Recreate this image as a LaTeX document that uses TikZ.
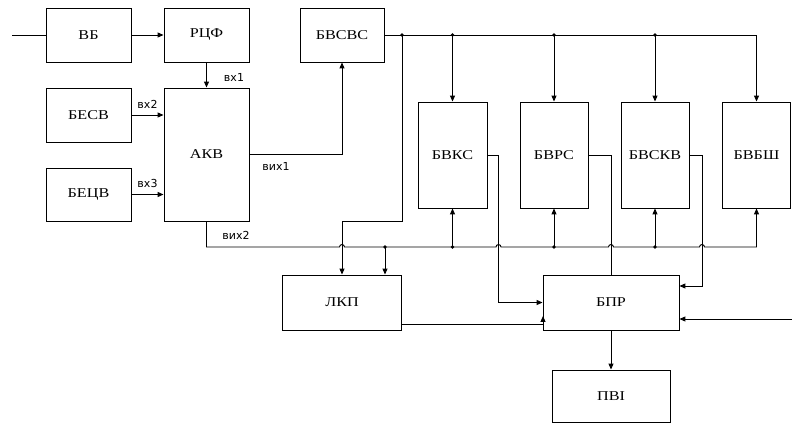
\documentclass[tikz,border=0pt]{standalone}
\usepackage{fontspec}
\setmainfont{Liberation Serif}
\newfontfamily\lblfont{DejaVu Sans}
\usetikzlibrary{arrows.meta,calc}
\newlength\pu
\setlength\pu{0.03cm}
\newcommand\bt[1]{\scalebox{1.2}[1]{#1}}
\begin{document}
\begin{tikzpicture}[x=0.03cm,y=-0.03cm,
  blk/.style={draw, line width=0.8pt, inner sep=0pt, font=\fontsize{11.5}{12}\selectfont},
  wire/.style={line width=0.8pt},
  arr/.style={wire,-{Triangle[length=5pt,width=4.2pt]}},
  lbl/.style={font=\lblfont\fontsize{9.4}{10}\selectfont, inner sep=0pt},
  jdot/.style={circle, fill, inner sep=0pt, minimum size=3.2pt}]
\useasboundingbox (0,0) rectangle (792,423);

% blocks
\node[blk,minimum width=85\pu,minimum height=54\pu] (vb) at (88.5,35) {\bt{ВБ}};
\node[blk,minimum width=85\pu,minimum height=54\pu] (rcf) at (206.5,35) {\bt{РЦФ}};
\node[blk,minimum width=84\pu,minimum height=54\pu] (bvsvs) at (342,35) {\bt{БВСВС}};
\node[blk,minimum width=85\pu,minimum height=54\pu] (besv) at (88.5,115) {\bt{БЕСВ}};
\node[blk,minimum width=85\pu,minimum height=133\pu] (akv) at (206.5,154.5) {\bt{АКВ}};
\node[blk,minimum width=85\pu,minimum height=53\pu] (becv) at (88.5,194.5) {\bt{БЕЦВ}};
\node[blk,minimum width=69\pu,minimum height=106\pu] (bvks) at (452.5,155) {\bt{БВКС}};
\node[blk,minimum width=68\pu,minimum height=106\pu] (bvrs) at (554,155) {\bt{БВРС}};
\node[blk,minimum width=68\pu,minimum height=106\pu] (bvskv) at (655,155) {\bt{БВСКВ}};
\node[blk,minimum width=68\pu,minimum height=106\pu] (bvbsh) at (756.5,155) {\bt{БВБШ}};
\node[blk,minimum width=119\pu,minimum height=55\pu] (lkp) at (342,302.5) {\bt{ЛКП}};
\node[blk,minimum width=136\pu,minimum height=55\pu] (bpr) at (611,302.5) {\bt{БПР}};
\node[blk,minimum width=118\pu,minimum height=52\pu] (pvi) at (611,396) {\bt{ПВІ}};

% labels
\node[lbl] (l1) at (234,77) {вх1};
\node[lbl] (l2) at (147.5,104) {вх2};
\node[lbl] (l3) at (147.5,183) {вх3};
\node[lbl] (l4) at (276,166) {вих1};
\node[lbl] (l5) at (236,235) {вих2};

% coordinates
\coordinate (in) at (12,35);
\coordinate (tb0) at (402,35);
\coordinate (tb1) at (452.5,35);
\coordinate (tb2) at (554,35);
\coordinate (tb3) at (655,35);
\coordinate (tb4) at (756.5,35);
\coordinate (lk1) at (402,221);
\coordinate (lk2) at (342,221);
\coordinate (bb0) at (206.5,247);
\coordinate (bb1) at (385,247);
\coordinate (bb2) at (452.5,247);
\coordinate (bb3) at (554,247);
\coordinate (bb4) at (655,247);
\coordinate (bb5) at (756.5,247);
\coordinate (o1) at (498.5,155);
\coordinate (o2) at (611,155);
\coordinate (o3) at (702,155);
\coordinate (o3b) at (702,286);
\coordinate (rin) at (792,319);
\coordinate (lko) at (401.5,324);
\coordinate (lkt) at (543,324);
\coordinate (lkh) at (543,316);

% top part
\draw[wire] (in) -- (vb.west);
\draw[arr] (vb.east) -- (rcf.west);
\draw[arr] (rcf.south) -- (akv.north);
\draw[arr] (besv.east) -- (besv.east -| akv.west);
\draw[arr] (becv.east) -- (becv.east -| akv.west);
\draw[arr] (akv.east) -| (bvsvs.south);

% top bus
\draw[arr] (bvsvs.east) -- (tb4) -- (bvbsh.north);
\draw[arr] (tb1) -- (bvks.north);
\draw[arr] (tb2) -- (bvrs.north);
\draw[arr] (tb3) -- (bvskv.north);
\draw[wire] (tb0) -- (lk1) -- (lk2);
\draw[arr] (lk2) -- (lkp.north);

% bottom bus with hops
\draw[arr] (akv.south) -- (bb0) -- (339.5,247) arc[start angle=180,end angle=360,radius=2.5]
  -- (496,247) arc[start angle=180,end angle=360,radius=2.5]
  -- (608.5,247) arc[start angle=180,end angle=360,radius=2.5]
  -- (699.5,247) arc[start angle=180,end angle=360,radius=2.5]
  -- (bb5) -- (bvbsh.south);
\draw[arr] (bb1) -- (bb1 |- lkp.north);
\draw[arr] (bb2) -- (bvks.south);
\draw[arr] (bb3) -- (bvrs.south);
\draw[arr] (bb4) -- (bvskv.south);

% outputs to BPR
\draw[arr] (bvks.east) -- (o1) |- (bpr.west);
\draw[wire] (bvrs.east) -- (o2) -- (bpr.north);
\draw[arr] (bvskv.east) -- (o3) -- (o3b) -- (o3b -| bpr.east);
\draw[arr] (rin) -- (rin -| bpr.east);
\draw[arr] (lko) -- (lkt) -- (lkh);
\draw[arr] (bpr.south) -- (pvi.north);

% junction dots
\foreach \p in {tb0,tb1,tb2,tb3,bb1,bb2,bb3,bb4} \node[jdot] at (\p) {};
\end{tikzpicture}
\end{document}
